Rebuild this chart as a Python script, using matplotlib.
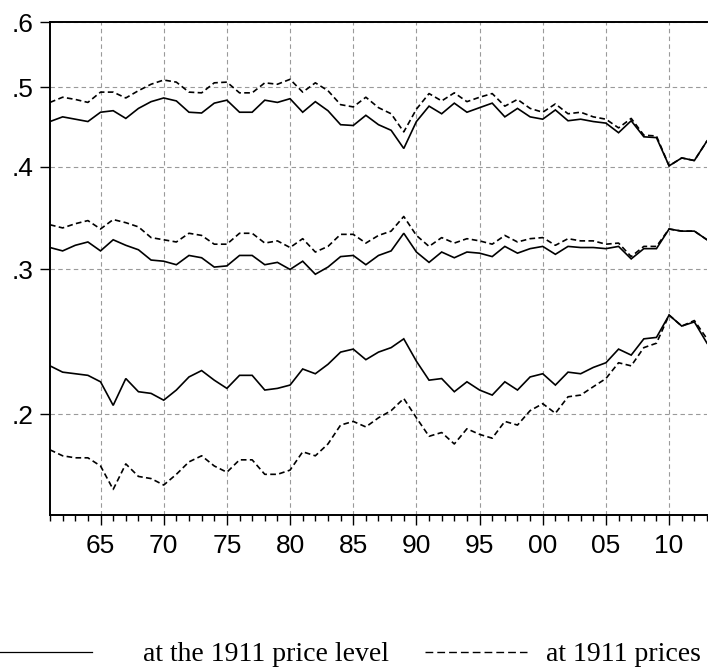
import matplotlib
matplotlib.use("Agg")
import matplotlib.pyplot as plt
from matplotlib.lines import Line2D
from matplotlib.ticker import NullLocator, FixedLocator

years = list(range(1961, 2014))

upper_solid = [0.454,0.460,0.457,0.454,0.466,0.468,0.458,0.471,0.480,0.485,0.481,0.466,0.465,0.478,0.482,0.466,0.466,0.482,0.479,
               0.484,0.466,0.480,0.468,0.450,0.449,0.462,0.450,0.443,0.421,0.454,0.474,0.464,0.478,0.466,0.472,0.478,0.460,0.471,
               0.460,0.457,0.469,0.455,0.457,0.454,0.452,0.440,0.455,0.435,0.434,0.401,0.410,0.407,0.430]
upper_dashed = [0.479,0.486,0.483,0.479,0.493,0.493,0.485,0.495,0.504,0.510,0.507,0.493,0.492,0.506,0.507,0.492,0.492,0.506,0.504,
                0.511,0.493,0.506,0.495,0.476,0.473,0.486,0.472,0.464,0.441,0.470,0.491,0.481,0.492,0.480,0.486,0.491,0.474,0.483,
                0.471,0.466,0.477,0.464,0.466,0.460,0.457,0.446,0.458,0.437,0.436,0.401,0.410,0.407,0.430]
middle_solid = [0.319,0.316,0.321,0.324,0.316,0.326,0.321,0.317,0.308,0.307,0.304,0.312,0.310,0.302,0.303,0.312,0.312,0.304,0.306,
                0.300,0.307,0.296,0.302,0.311,0.312,0.304,
                0.312,0.316,0.332,0.315,0.306,0.315,0.310,0.315,0.314,0.311,0.320,0.314,0.318,0.320,0.313,0.320,0.319,0.319,
                0.318,0.320,0.309,0.318,0.318,0.336,0.334,0.334,0.326]
middle_dashed = [0.340,0.337,0.341,0.344,0.336,0.345,0.342,0.338,0.328,0.326,0.324,0.332,0.330,0.322,0.322,0.332,0.332,0.323,0.325,
                 0.319,0.327,0.315,0.320,0.331,0.331,0.323,
                 0.330,0.334,0.348,0.330,0.320,0.328,0.323,0.327,0.325,0.322,0.330,0.324,0.327,0.328,0.321,0.327,0.325,0.325,
                 0.322,0.323,0.311,0.320,0.320,0.336,0.334,0.334,0.326]
lower_solid = [0.229,0.225,0.224,0.223,0.219,0.205,0.221,0.213,0.212,0.208,0.214,0.222,0.226,0.220,0.215,0.223,0.223,0.214,0.215,
               0.217,0.227,0.224,0.230,0.238,0.240,0.233,
               0.238,0.241,0.247,0.232,0.220,0.221,0.213,0.219,0.214,0.211,0.219,0.214,0.222,0.224,0.217,0.225,0.224,0.228,
               0.231,0.240,0.236,0.247,0.248,0.264,0.256,0.259,0.244]
lower_dashed = [0.181,0.178,0.177,0.177,0.173,0.162,0.174,0.168,0.167,0.164,0.169,0.175,0.178,0.173,0.170,0.176,0.176,0.169,0.169,
                0.171,0.180,0.178,0.184,0.194,0.196,0.193,
                0.198,0.202,0.209,0.198,0.188,0.190,0.184,0.192,0.189,0.187,0.196,0.194,0.202,0.206,0.2005,0.210,0.211,0.216,
                0.221,0.231,0.229,0.241,0.244,0.264,0.256,0.260,0.247]

x_major = [1965, 1970, 1975, 1980, 1985, 1990, 1995, 2000, 2005, 2010]
x_labels = ["65", "70", "75", "80", "85", "90", "95", "00", "05", "10"]
y_ticks = [0.2, 0.3, 0.4, 0.5, 0.6]
y_labels = [".2", ".3", ".4", ".5", ".6"]

legend_solid = "at the 1911 price level"
legend_dashed = "at 1911 prices"

fig = plt.figure(figsize=(7.08, 6.72), dpi=100)
ax = fig.add_axes([50/708, (672-515)/672, (707-50)/708, (515-22)/672])

lw = 1.2
dash = (3.4, 2.0)
for s in (upper_solid, middle_solid, lower_solid):
    ax.plot(years, s, color="black", lw=lw, solid_joinstyle="miter")
for s in (upper_dashed, middle_dashed, lower_dashed):
    ax.plot(years, s, color="black", lw=lw, linestyle=(0, dash))

ax.set_yscale("log")
ax.set_ylim(0.1508, 0.6)
ax.set_xlim(1961, 2013)
ax.yaxis.set_major_locator(FixedLocator(y_ticks))
ax.set_yticklabels(y_labels)
ax.yaxis.set_minor_locator(NullLocator())
ax.set_xticks(x_major)
ax.set_xticklabels(x_labels)
ax.set_xticks(years, minor=True)

ax.grid(True, which="major", color="#9a9a9a", linestyle=(0, (4, 3)), linewidth=0.8)
ax.set_axisbelow(True)

for sp in ax.spines.values():
    sp.set_linewidth(1.4)
ax.spines["right"].set_visible(False)

ax.tick_params(axis="y", which="major", direction="out", length=7, width=1, pad=5,
               labelsize=19)
ax.tick_params(axis="x", which="major", direction="out", length=7.5, width=1, pad=6,
               labelsize=19)
ax.tick_params(axis="x", which="minor", direction="out", length=4.5, width=1)
for lab in ax.get_xticklabels() + ax.get_yticklabels():
    lab.set_fontfamily(["Liberation Sans", "DejaVu Sans"])

# legend at bottom
ly = 1 - 652/672
base = 1 - 661/672
fig.add_artist(Line2D([0/708, 92/708], [ly, ly], color="black", lw=0.9))
fig.text(143/708, base, legend_solid, fontsize=20, family=["Liberation Serif", "DejaVu Serif"],
         ha="left", va="baseline")
fig.add_artist(Line2D([425/708, 527/708], [ly, ly], color="black", lw=1.0,
                      linestyle=(0, (5.6, 2.9))))
fig.text(546/708, base, legend_dashed, fontsize=20, family=["Liberation Serif", "DejaVu Serif"],
         ha="left", va="baseline")

fig.savefig("out.png", dpi=100)
